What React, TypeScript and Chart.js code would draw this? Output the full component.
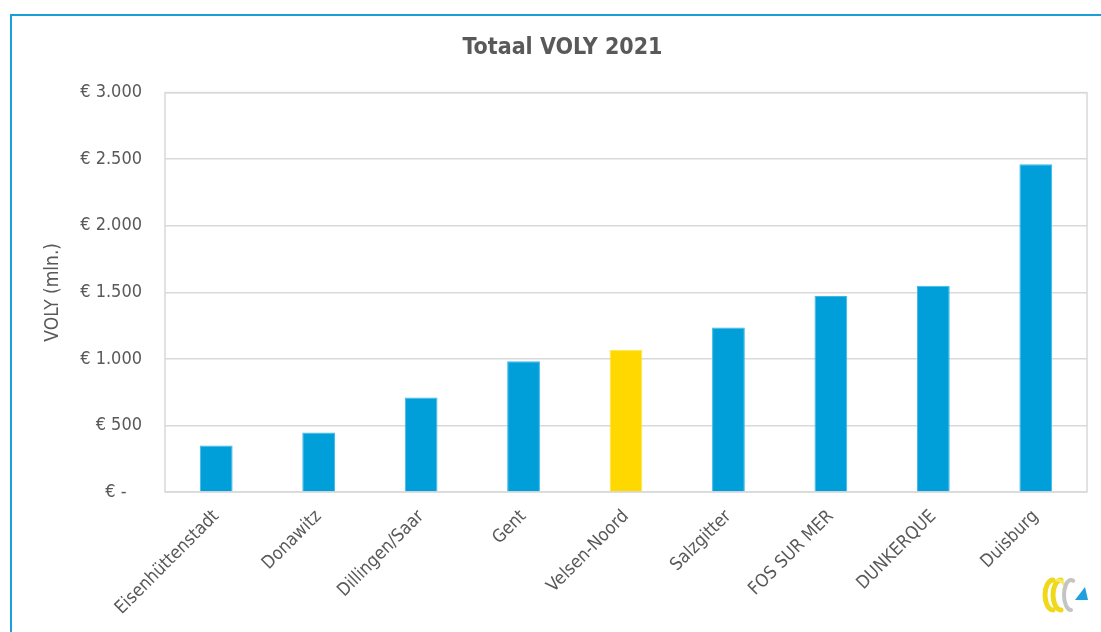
import React, { useEffect, useRef } from "react";
import { Chart, registerables } from "chart.js";

Chart.register(...registerables);

const categories = [
  "Eisenhüttenstadt",
  "Donawitz",
  "Dillingen/Saar",
  "Gent",
  "Velsen-Noord",
  "Salzgitter",
  "FOS SUR MER",
  "DUNKERQUE",
  "Duisburg",
];
const voly = [349, 447, 710, 983, 1068, 1236, 1472, 1550, 2462];
const highlighted = ["Velsen-Noord"];
const yTickLabels = ["€ -   ", "€ 500", "€ 1.000", "€ 1.500", "€ 2.000", "€ 2.500", "€ 3.000"];

const FONT = "'DejaVu Sans Condensed', 'DejaVu Sans', sans-serif";
const TEXT = "#595959";
const GRID = "#D9D9D9";

const framePlugin = {
  id: "frameAndLogo",
  beforeDatasetsDraw(chart: any) {
    const { ctx, chartArea } = chart;
    ctx.save();
    ctx.strokeStyle = GRID;
    ctx.lineWidth = 1.5;
    ctx.strokeRect(chartArea.left, chartArea.top, chartArea.right - chartArea.left, chartArea.bottom - chartArea.top);
    ctx.restore();
  },
  afterDraw(chart: any) {
    const { ctx, width, height } = chart;
    const cx = width - 40;
    const cy = height - 37;
    ctx.save();
    ctx.lineCap = "round";
    // yellow rings
    ctx.lineWidth = 5;
    ctx.strokeStyle = "#F0D81A";
    ctx.beginPath();
    ctx.ellipse(cx - 8, cy, 8, 15, 0, Math.PI * 0.5, Math.PI * 1.5);
    ctx.stroke();
    ctx.beginPath();
    ctx.ellipse(cx, cy, 8, 15, 0, Math.PI * 0.5, Math.PI * 1.5);
    ctx.stroke();
    ctx.strokeStyle = "#F6E96E";
    ctx.lineWidth = 3;
    ctx.beginPath();
    ctx.ellipse(cx - 4, cy, 10, 15, 0, Math.PI * 1.5, Math.PI * 1.85);
    ctx.stroke();
    // grey ring
    ctx.strokeStyle = "#C4C4C4";
    ctx.lineWidth = 4;
    ctx.beginPath();
    ctx.ellipse(cx + 10, cy, 7, 15, 0, Math.PI * 0.5, Math.PI * 1.6);
    ctx.stroke();
    // blue triangle
    ctx.fillStyle = "#1E9FE0";
    ctx.beginPath();
    ctx.moveTo(cx + 14, cy + 5);
    ctx.lineTo(cx + 24, cy - 8);
    ctx.lineTo(cx + 27, cy + 5);
    ctx.closePath();
    ctx.fill();
    ctx.restore();
  },
};

export default function App() {
  const ref = useRef<HTMLCanvasElement | null>(null);

  useEffect(() => {
    if (!ref.current) return;
    const chart = new Chart(ref.current, {
      type: "bar",
      data: {
        labels: categories,
        datasets: [
          {
            label: "VOLY",
            data: voly,
            backgroundColor: categories.map((c) => (highlighted.includes(c) ? "#FFD800" : "#009FDA")),
            borderColor: categories.map((c) => (highlighted.includes(c) ? "#FFE44D" : "#3DB8E8")),
            borderWidth: 1,
            barPercentage: 0.64,
            categoryPercentage: 0.5,
          },
        ],
      },
      options: {
        animation: false,
        responsive: false,
        layout: { padding: { left: 38, right: 14, top: 0, bottom: 0 } },
        plugins: {
          legend: { display: false },
          tooltip: { enabled: false },
          title: {
            display: true,
            text: "Totaal VOLY 2021",
            color: TEXT,
            font: { family: FONT, size: 23, weight: "bold", lineHeight: 1.2 },
            padding: { top: 34, bottom: 31 },
          },
        },
        scales: {
          x: {
            grid: { display: false },
            border: { display: false },
            ticks: {
              color: TEXT,
              font: { family: FONT, size: 18 },
              minRotation: 45,
              maxRotation: 45,
              padding: 6,
              autoSkip: false,
            },
            afterFit: (scale: any) => {
              scale.height = 140;
            },
          },
          y: {
            min: 0,
            max: 3000,
            grid: { color: GRID, lineWidth: 1.5, drawTicks: false },
            border: { display: false },
            ticks: {
              stepSize: 500,
              color: TEXT,
              font: { family: FONT, size: 18 },
              padding: 23,
              callback: (_v: any, i: number) => yTickLabels[i],
            },
            title: {
              display: true,
              text: "VOLY (mln.)",
              color: TEXT,
              font: { family: FONT, size: 19 },
              padding: { top: 4, bottom: 0 },
            },
            afterFit: (scale: any) => {
              scale.width = 127;
            },
          },
        },
      },
      plugins: [framePlugin],
    });
    return () => chart.destroy();
  }, []);

  return (
    <div style={{ position: "fixed", left: 0, top: 0, width: 1101, height: 632, background: "#fff", overflow: "hidden" }}>
      <div
        style={{
          position: "absolute",
          left: 10,
          top: 14,
          width: 1200,
          height: 700,
          borderLeft: "2px solid #1A9FD8",
          borderTop: "2px solid #1A9FD8",
        }}
      />
      <canvas ref={ref} width={1101} height={632} style={{ position: "absolute", left: 0, top: 0, width: 1101, height: 632 }} />
    </div>
  );
}
